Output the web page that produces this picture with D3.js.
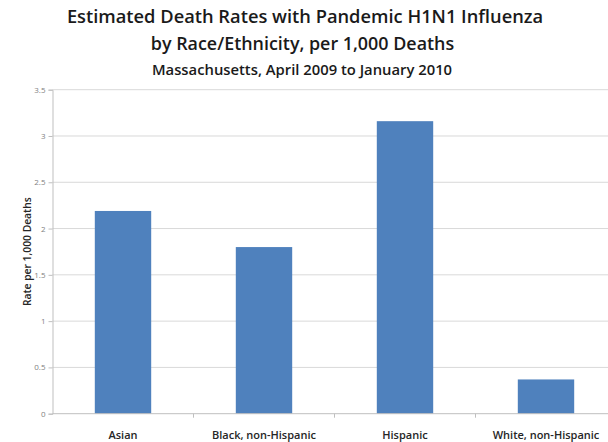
<!DOCTYPE html>
<html>
<head>
<meta charset="utf-8">
<script src="https://cdn.jsdelivr.net/npm/d3@7"></script>
<style>
  html, body { margin: 0; padding: 0; background: #fff; }
  svg { display: block; font-family: "Open Sans", "Noto Sans", sans-serif; }
</style>
</head>
<body>
<svg id="chart" width="608" height="442"></svg>
<script>
// Race/ethnicity groups and estimated H1N1 death rates (per 1,000 deaths)
const categories = ["Asian", "Black, non-Hispanic", "Hispanic", "White, non-Hispanic"];
const rates = [2.19, 1.80, 3.16, 0.37];
const yTicks = [0, 0.5, 1, 1.5, 2, 2.5, 3, 3.5];
const titleLines = [
  "Estimated Death Rates with Pandemic H1N1 Influenza",
  "by Race/Ethnicity, per 1,000 Deaths"
];
const subtitle = "Massachusetts, April 2009 to January 2010";
const yTitle = "Rate per 1,000 Deaths";

const svg = d3.select("#chart");
const plot = { left: 52.5, top: 89.7, bottom: 413.7, step: 141 };

const x = d3.scaleBand()
  .domain(categories)
  .range([plot.left, plot.left + plot.step * categories.length])
  .paddingInner(0.6)
  .paddingOuter(0.3);

const y = d3.scaleLinear().domain([0, 3.5]).range([plot.bottom, plot.top]);

// horizontal gridlines
svg.append("g")
  .selectAll("line")
  .data(yTicks.filter(d => d > 0))
  .join("line")
  .attr("x1", plot.left)
  .attr("x2", 608)
  .attr("y1", d => y(d))
  .attr("y2", d => y(d))
  .attr("stroke", "#d9d9d9")
  .attr("stroke-width", 1);

// bars
svg.append("g")
  .selectAll("rect")
  .data(rates)
  .join("rect")
  .attr("x", (d, i) => x(categories[i]))
  .attr("width", x.bandwidth())
  .attr("y", d => y(d))
  .attr("height", d => y(0) - y(d))
  .attr("fill", "#4f81bd");

// y axis
const yAxis = d3.axisLeft(y)
  .tickValues(yTicks)
  .tickSize(4)
  .tickFormat(d => String(d));
const yg = svg.append("g")
  .attr("transform", `translate(${plot.left},0)`)
  .call(yAxis);
yg.select(".domain").attr("stroke", "#bfbfbf");
yg.selectAll(".tick line").attr("stroke", "#bfbfbf");
yg.selectAll(".tick text")
  .attr("x", -7)
  .attr("fill", "#7f7f7f")
  .style("font-size", "8px")
  .style("font-family", "'Open Sans', sans-serif");

// x axis baseline with ticks between categories
const xb = svg.append("g");
xb.append("line")
  .attr("x1", plot.left).attr("x2", 608)
  .attr("y1", y(0)).attr("y2", y(0))
  .attr("stroke", "#bfbfbf");
xb.selectAll("line.sep")
  .data(categories.slice(1))
  .join("line")
  .attr("class", "sep")
  .attr("x1", c => x(c) + x.bandwidth() / 2 - x.step() / 2)
  .attr("x2", c => x(c) + x.bandwidth() / 2 - x.step() / 2)
  .attr("y1", y(0)).attr("y2", y(0) + 4)
  .attr("stroke", "#bfbfbf");

// category labels
xb.selectAll("text")
  .data(categories)
  .join("text")
  .attr("x", c => x(c) + x.bandwidth() / 2)
  .attr("y", 439)
  .attr("text-anchor", "middle")
  .attr("fill", "#262626")
  .style("font-size", "11px")
  .style("font-weight", 600)
  .text(c => c);

// y axis title
svg.append("text")
  .attr("transform", `translate(31,${(plot.top + plot.bottom) / 2}) rotate(-90)`)
  .attr("text-anchor", "middle")
  .attr("fill", "#262626")
  .style("font-size", "10.3px")
  .style("font-weight", 600)
  .text(yTitle);

// titles
svg.append("text")
  .attr("x", 305).attr("y", 23)
  .attr("text-anchor", "middle")
  .attr("fill", "#1a1a1a")
  .style("font-size", "18.3px")
  .style("font-weight", 600)
  .text(titleLines[0]);
svg.append("text")
  .attr("x", 302.5).attr("y", 50)
  .attr("text-anchor", "middle")
  .attr("fill", "#1a1a1a")
  .style("font-size", "17.9px")
  .style("font-weight", 600)
  .text(titleLines[1]);
svg.append("text")
  .attr("x", 302).attr("y", 75)
  .attr("text-anchor", "middle")
  .attr("fill", "#1a1a1a")
  .style("font-size", "14.8px")
  .style("font-weight", 600)
  .text(subtitle);
</script>
</body>
</html>
